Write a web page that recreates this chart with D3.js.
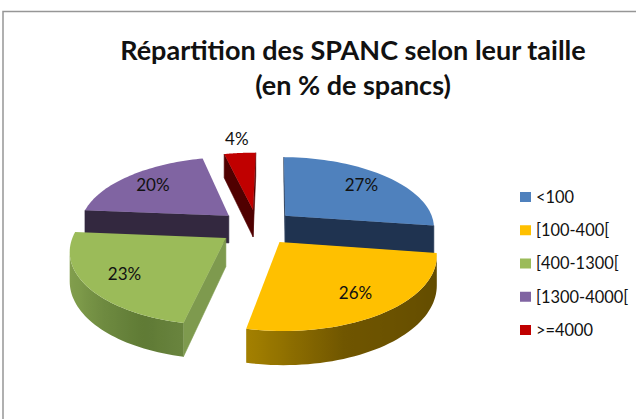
<!DOCTYPE html>
<html>
<head>
<meta charset="utf-8">
<script src="https://cdn.jsdelivr.net/npm/d3@7"></script>
<style>
    html, body { margin: 0; padding: 0; background: #fff; }
    svg { display: block; }
    text { font-family: Lato, "Open Sans", sans-serif; fill: #111; }
</style>
</head>
<body>
<svg id="chart" width="636" height="419"></svg>
<script>
/************
** data
*************/
var categories = ["<100", "[100-400[", "[400-1300[", "[1300-4000[", ">=4000"];
var values = [27, 26, 23, 20, 4];
var titleLines = ["Répartition des SPANC selon leur taille", "(en % de spancs)"];

/************
** colors
*************/
var topColors = ["#4f81bd", "#ffc000", "#9bbb59", "#8064a2", "#c00000"];
var cutColors = ["#1f3350", "#7a6000", "#7e9a4e", "#33283f", "#500000"];
// shade of the curved side, read along the angle in degrees
var sideAngles = [97, 160, 191, 205, 240, 274];
var sideColors = [
    ["#1f3350", "#1f3350", "#1f3350", "#1f3350", "#1f3350", "#1f3350"],
    ["#604a00", "#6f5500", "#a38000", "#a38000", "#a38000", "#a38000"],
    ["#5f7a35", "#5f7a35", "#6a853f", "#5f7a35", "#7d9a4a", "#8aa552"],
    ["#33283f", "#33283f", "#33283f", "#33283f", "#33283f", "#33283f"],
    ["#500000", "#500000", "#500000", "#500000", "#500000", "#500000"]
];

/************
** layout
*************/
var centerX = 257, centerY = 227;
var radius = 150, explode = 38, depth = 28;
var squash = 0.47, perspective = 0.15;
var firstAngle = 1 * Math.PI / 180;

var svg = d3.select("#chart");
var defs = svg.append("defs");
var color = d3.scaleOrdinal().domain(categories).range(topColors);
var line = d3.line();
var slices = d3.pie().sort(null)
    .startAngle(firstAngle)
    .endAngle(firstAngle + 2 * Math.PI)(values);

// disk coordinates to screen, the lower face just sits lower
function project(x, z, drop) {
    var s = 1 / (1 + perspective * z / radius);
    return [centerX + x * s, centerY - squash * z * s + (drop || 0) * s];
}
function polar(bisector, angle, r) {
    return [
        explode * Math.sin(bisector) + r * Math.sin(angle),
        explode * Math.cos(bisector) + r * Math.cos(angle)
    ];
}
// svg y goes down, so a wall that turns to the viewer has a negative area
function facing(points) {
    return d3.polygonArea(points) < 0;
}
function wall(points, fill) {
    if (!facing(points)) return;
    svg.append("path")
        .attr("d", line(points) + "Z")
        .attr("fill", fill)
        .attr("stroke", fill)
        .attr("stroke-width", 0.6);
}
// curved side as one shape with a left to right gradient
function curvedSide(i, rim, steps) {
    var shade = d3.scaleLinear().domain(sideAngles).range(sideColors[i]).clamp(true);
    var seen = [];
    for (var k = 0; k < rim.length - 1; k++) {
        var p = rim[k], q = rim[k + 1];
        if (facing([project(q[0], q[1]), project(p[0], p[1]),
                    project(p[0], p[1], depth), project(q[0], q[1], depth)])) {
            if (seen[seen.length - 1] !== k) seen.push(k);
            seen.push(k + 1);
        }
    }
    if (!seen.length) return;
    var upper = seen.map(function(k) { return project(rim[k][0], rim[k][1]); });
    var lower = seen.map(function(k) { return project(rim[k][0], rim[k][1], depth); }).reverse();
    var xs = d3.extent(upper, function(p) { return p[0]; });
    var offset = d3.scaleLinear().domain(xs).range([0, 1]);
    var stops = seen.map(function(k, n) {
        return { at: offset(upper[n][0]), fill: shade(steps[k] * 180 / Math.PI) };
    }).sort(function(a, b) { return a.at - b.at; });

    var gradient = defs.append("linearGradient")
        .attr("id", "side" + i)
        .attr("gradientUnits", "userSpaceOnUse")
        .attr("x1", xs[0]).attr("y1", 0)
        .attr("x2", xs[1]).attr("y2", 0);
    gradient.selectAll("stop").data(stops).enter().append("stop")
        .attr("offset", function(d) { return d.at; })
        .attr("stop-color", function(d) { return d.fill; });

    svg.append("path")
        .attr("d", line(upper.concat(lower)) + "Z")
        .attr("fill", "url(#side" + i + ")");
}

/************
** frame
*************/
svg.append("path")
    .attr("d", "M3,419V11.5H636")
    .attr("fill", "none")
    .attr("stroke", "#969696")
    .attr("stroke-width", 1.5);

/************
** pie, back slices first
*************/
var order = d3.range(slices.length).sort(function(a, b) {
    var ma = (slices[a].startAngle + slices[a].endAngle) / 2;
    var mb = (slices[b].startAngle + slices[b].endAngle) / 2;
    return Math.cos(mb) - Math.cos(ma);
});

order.forEach(function(i) {
    var d = slices[i];
    var mid = (d.startAngle + d.endAngle) / 2;
    var steps = d3.range(0, 49).map(function(k) {
        return d.startAngle + (d.endAngle - d.startAngle) * k / 48;
    });
    var apex = polar(mid, 0, 0);
    var rim = steps.map(function(a) { return polar(mid, a, radius); });
    var first = rim[0], last = rim[rim.length - 1];

    // cut faces
    wall([project(first[0], first[1]), project(apex[0], apex[1]),
          project(apex[0], apex[1], depth), project(first[0], first[1], depth)], cutColors[i]);
    wall([project(apex[0], apex[1]), project(last[0], last[1]),
          project(last[0], last[1], depth), project(apex[0], apex[1], depth)], cutColors[i]);

    curvedSide(i, rim, steps);

    // top face
    var top = [project(apex[0], apex[1])].concat(rim.map(function(p) { return project(p[0], p[1]); }));
    svg.append("path")
        .attr("d", line(top) + "Z")
        .attr("fill", color(categories[i]));
});

/************
** percent labels
*************/
slices.forEach(function(d) {
    var mid = (d.startAngle + d.endAngle) / 2;
    var reach = d.value < 5 ? 1.28 : 0.75;
    var p = polar(mid, mid, radius * reach);
    var at = project(p[0], p[1]);
    svg.append("text")
        .attr("x", at[0])
        .attr("y", at[1])
        .attr("dy", "0.35em")
        .attr("text-anchor", "middle")
        .style("font-size", "17px")
        .text(d.value + "%");
});

/************
** title
*************/
svg.selectAll("text.title").data(titleLines).enter().append("text")
    .attr("class", "title")
    .attr("x", 353)
    .attr("y", function(d, i) { return 60 + i * 35; })
    .attr("text-anchor", "middle")
    .style("font-size", "27px")
    .style("font-weight", "700")
    .text(function(d) { return d; });

/************
** legend
*************/
var legendY = d3.scalePoint().domain(categories).range([197, 330]);
var legend = svg.selectAll("g.legend").data(categories).enter().append("g")
    .attr("class", "legend")
    .attr("transform", function(d) { return "translate(520," + legendY(d) + ")"; });
legend.append("rect")
    .attr("x", 0)
    .attr("y", -5)
    .attr("width", 11)
    .attr("height", 10)
    .attr("fill", function(d) { return color(d); });
legend.append("text")
    .attr("x", 16)
    .attr("dy", "0.35em")
    .style("font-size", "16.4px")
    .text(function(d) { return d; });
</script>
</body>
</html>
